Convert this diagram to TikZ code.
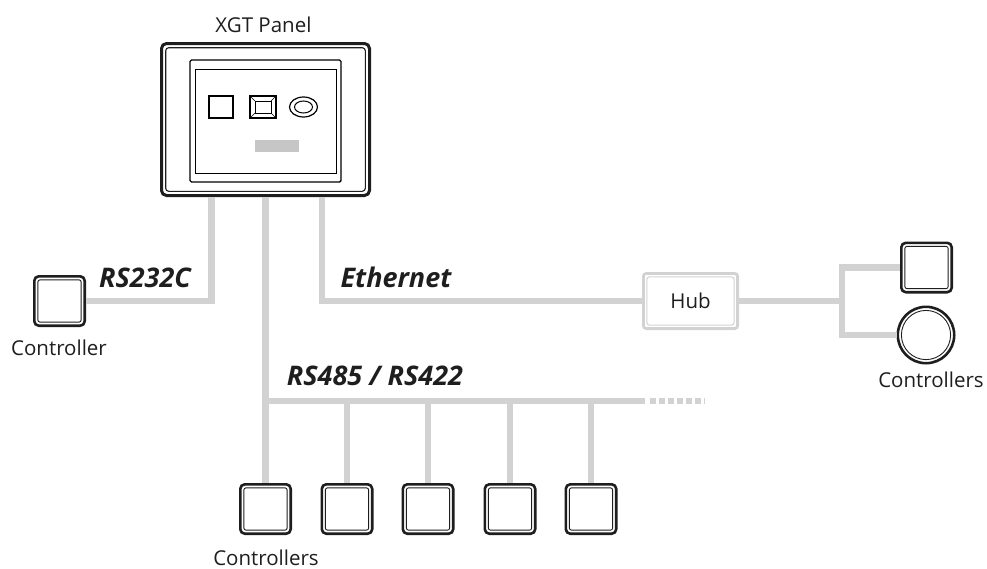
\documentclass[tikz,border=0pt]{standalone}
\usepackage{fontspec}
\setmainfont{Open Sans}
\usepackage{tikz}
\definecolor{netgray}{RGB}{210,210,210}
\definecolor{bargray}{RGB}{198,198,198}
\definecolor{inkblack}{RGB}{30,30,30}
\tikzset{
  ctrlBox/.style={
    rectangle,
    rounded corners=4.5pt,
    draw=inkblack,
    line width=2.6pt,
    minimum width=50.4pt,
    minimum height=49.4pt,
    inner sep=0pt,
    path picture={
      \draw[inkblack, line width=0.9pt, rounded corners=2pt]
        ([shift={(3.6pt,3.6pt)}]path picture bounding box.south west)
        rectangle ([shift={(-3.6pt,-3.6pt)}]path picture bounding box.north east);
    }
  },
  ctrlRound/.style={
    circle,
    draw=inkblack,
    line width=2.6pt,
    minimum size=56.4pt,
    inner sep=0pt,
    path picture={
      \draw[inkblack, line width=0.9pt]
        (path picture bounding box.center) circle [radius=24.6pt];
    }
  },
  panelBox/.style={
    rectangle,
    rounded corners=5pt,
    draw=inkblack,
    line width=3pt,
    minimum width=208pt,
    minimum height=152pt,
    path picture={
      \draw[inkblack, line width=1.1pt, rounded corners=3pt]
        ([shift={(4.2pt,4.2pt)}]path picture bounding box.south west)
        rectangle ([shift={(-4.2pt,-4.2pt)}]path picture bounding box.north east);
    }
  },
  hubBox/.style={
    rectangle,
    rounded corners=3pt,
    draw=netgray,
    line width=2.8pt,
    minimum width=94.2pt,
    minimum height=55.2pt,
    text=inkblack,
    font=\fontsize{20.5}{24}\selectfont,
    path picture={
      \draw[netgray, line width=1pt]
        ([shift={(3.4pt,3.4pt)}]path picture bounding box.south west)
        rectangle ([shift={(-3.4pt,-3.4pt)}]path picture bounding box.north east);
    }
  },
  netLine/.style={
    draw=netgray,
    line width=6.5pt
  },
  netLabel/.style={
    anchor=base,
    inner sep=0pt,
    text=inkblack,
    font=\fontsize{27}{31}\selectfont\bfseries\itshape
  },
  devLabel/.style={
    anchor=base,
    inner sep=0pt,
    text=inkblack,
    font=\fontsize{20.5}{24}\selectfont
  }
}

\begin{document}
\begin{tikzpicture}[x=1pt, y=-1pt]
  \useasboundingbox (0,0) rectangle (987,568);

  % panel
  \node[panelBox] (panel) at (265.5,119.5) {};
  \node[devLabel] (title) at (263.5,32) {XGT Panel};
  \draw[line width=1.4pt, rounded corners=1.5pt] (190,60) rectangle (341,182);
  \draw[line width=0.6pt] (195,69) rectangle (336,173);
  \draw[line width=1.2pt] (209,96) rectangle (233,118);
  \draw[line width=1.2pt] (250,96) rectangle (276,118);
  \draw[line width=0.8pt] (255,101) rectangle (271,113);
  \draw[line width=0.6pt] (250,96) -- (255,101) (276,96) -- (271,101)
    (250,118) -- (255,113) (276,118) -- (271,113);
  \draw[line width=1.2pt] (303.5,107) ellipse [x radius=14pt, y radius=10pt];
  \draw[line width=1pt] (303.5,107) ellipse [x radius=9pt, y radius=6pt];
  \fill[bargray] (255,140) rectangle (299,152);

  % controllers
  \node[ctrlBox] (ctrl) at (59.5,301) {};
  \node[devLabel] (ctrlText) at (59,355) {Controller};

  \foreach \i/\x in {1/265.5, 2/347, 3/428, 4/510, 5/591}
    \node[ctrlBox] (bus\i) at (\x,509) {};
  \node[devLabel] (busText) at (266,565) {Controllers};

  \node[hubBox] (hub) at (690.5,301) {Hub};
  \node[ctrlBox] (rbox) at (926.5,267.5) {};
  \node[ctrlRound] (rround) at (926,335) {};
  \node[devLabel] (rText) at (931,387) {Controllers};

  % connectors
  \coordinate (busL) at (265.5,401);
  \coordinate (busR) at (645,401);
  \coordinate (busEnd) at (705,401);
  \coordinate (fork) at (842,301);

  \draw[netLine] ([xshift=-54pt]panel.south) |- (ctrl.east);
  \draw[netLine] ([xshift=56.5pt]panel.south) |- (hub.west);
  \draw[netLine] (panel.south) -- (bus1.north);
  \draw[netLine] (busL) -- (busR);
  \draw[netLine, dash pattern=on 6pt off 3pt] ([xshift=5pt]busR) -- (busEnd);
  \foreach \i in {2,...,5}
    \draw[netLine] (busL -| bus\i.north) -- (bus\i.north);
  \draw[netLine] (hub.east) -- (fork);
  \draw[netLine] (rbox.west) -| (fork |- rround.west) -- (rround.west);

  % labels
  \node[netLabel] (rs232) at (145,287) {RS232C};
  \node[netLabel] (eth) at (396,287) {Ethernet};
  \node[netLabel] (rs485) at (375,385) {RS485 / RS422};
\end{tikzpicture}
\end{document}
